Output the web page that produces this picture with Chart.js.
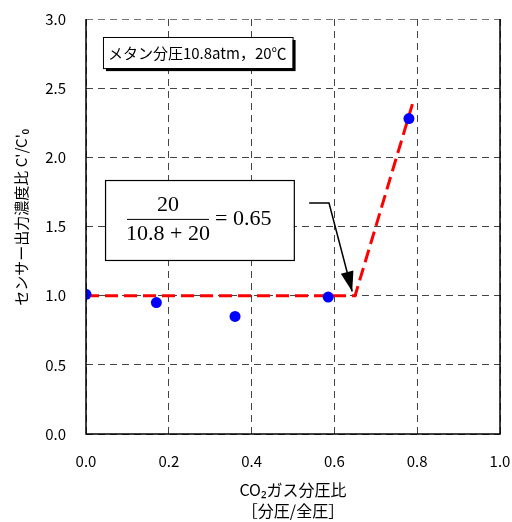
<!DOCTYPE html>
<html>
<head>
<meta charset="utf-8">
<script src="https://cdn.jsdelivr.net/npm/chart.js@4.4.1/dist/chart.umd.min.js"></script>
<style>
  html, body { margin: 0; padding: 0; background: #fff; }
  #wrap { width: 512px; height: 522px; }
</style>
</head>
<body>
<div id="wrap"><canvas id="c" width="512" height="522"></canvas></div>
<script>
// 測定値 (CO2分圧比 vs センサー出力濃度比)
const measX = [0.0, 0.17, 0.36, 0.585, 0.78];
const measY = [1.01, 0.95, 0.85, 0.99, 2.28];

// 折れ線 (赤破線)
const fitX = [0.0, 0.65, 0.79];
const fitY = [1.0, 1.0, 2.4];

// 目盛ラベル
const xTickLabels = ['0.0', '0.2', '0.4', '0.6', '0.8', '1.0'];
const yTickLabels = ['0.0', '0.5', '1.0', '1.5', '2.0', '2.5', '3.0'];

const JP = '"Noto Sans CJK JP", "Noto Sans", sans-serif';
const SERIF = '"Liberation Serif", "DejaVu Serif", serif';

// 枠・注記を描く
const annotPlugin = {
    id: 'annot',
    afterDatasetsDraw(chart) {
        const ctx = chart.ctx;
        const a = chart.chartArea;
        const xs = chart.scales.x, ys = chart.scales.y;
        const px = v => xs.getPixelForValue(v);
        const py = v => ys.getPixelForValue(v);

        ctx.save();
        // 左・下・右の枠（実線）
        ctx.strokeStyle = '#000';
        ctx.lineWidth = 1.5;
        ctx.beginPath();
        ctx.moveTo(a.left, a.top);
        ctx.lineTo(a.left, a.bottom);
        ctx.lineTo(a.right, a.bottom);
        ctx.lineTo(a.right, a.top);
        ctx.stroke();

        // 条件ラベル（影付き）
        const lx1 = px(0.041), lx2 = px(0.499), ly1 = py(2.87), ly2 = py(2.645);
        ctx.fillStyle = '#000';
        ctx.fillRect(lx1 + 3, ly1 + 3, lx2 - lx1, ly2 - ly1);
        ctx.fillStyle = '#fff';
        ctx.fillRect(lx1, ly1, lx2 - lx1, ly2 - ly1);
        ctx.lineWidth = 1;
        ctx.strokeRect(lx1 + 0.5, ly1 + 0.5, lx2 - lx1, ly2 - ly1);
        ctx.fillStyle = '#000';
        ctx.font = '15px ' + JP;
        ctx.textBaseline = 'middle';
        ctx.textAlign = 'left';
        ctx.fillText('メタン分圧10.8atm，20℃', lx1 + 5, (ly1 + ly2) / 2 + 1);

        // 計算式ボックス
        const bx1 = px(0.046), bx2 = px(0.502), by1 = py(1.836), by2 = py(1.258);
        ctx.fillStyle = '#fff';
        ctx.fillRect(bx1, by1, bx2 - bx1, by2 - by1);
        ctx.strokeStyle = '#000';
        ctx.lineWidth = 1.2;
        ctx.strokeRect(bx1 + 0.5, by1 + 0.5, bx2 - bx1, by2 - by1);

        const fx = px(0.198);
        const fy = py(1.555);
        ctx.fillStyle = '#000';
        ctx.font = '22px ' + SERIF;
        ctx.textAlign = 'center';
        ctx.textBaseline = 'middle';
        ctx.fillText('20', fx, fy - 14);
        ctx.fillText('10.8 + 20', fx, fy + 15);
        ctx.lineWidth = 1;
        ctx.beginPath();
        ctx.moveTo(fx - 41, fy + 0.5);
        ctx.lineTo(fx + 41, fy + 0.5);
        ctx.stroke();
        ctx.textAlign = 'left';
        ctx.fillText('= 0.65', fx + 47, fy);

        // 矢印
        const ax0 = px(0.539), ax1 = px(0.587), ayTop = py(1.67);
        const tipX = px(0.643), tipY = py(1.03);
        ctx.strokeStyle = '#000';
        ctx.lineWidth = 1.5;
        ctx.beginPath();
        ctx.moveTo(ax0, ayTop);
        ctx.lineTo(ax1, ayTop);
        ctx.lineTo(tipX, tipY);
        ctx.stroke();
        const ang = Math.atan2(tipY - ayTop, tipX - ax1);
        const L = 20, W = 6.5;
        ctx.beginPath();
        ctx.moveTo(tipX, tipY);
        ctx.lineTo(tipX - L * Math.cos(ang) + W * Math.sin(ang), tipY - L * Math.sin(ang) - W * Math.cos(ang));
        ctx.lineTo(tipX - L * Math.cos(ang) - W * Math.sin(ang), tipY - L * Math.sin(ang) + W * Math.cos(ang));
        ctx.closePath();
        ctx.fillStyle = '#000';
        ctx.fill();
        ctx.restore();
    }
};

new Chart(document.getElementById('c'), {
    type: 'scatter',
    data: {
        datasets: [
            {
                label: '測定値',
                data: measX.map((x, i) => ({ x: x, y: measY[i] })),
                backgroundColor: '#0000ff',
                borderColor: '#0000ff',
                pointRadius: 5.5,
                borderWidth: 0,
                order: 0
            },
            {
                label: '近似',
                data: fitX.map((x, i) => ({ x: x, y: fitY[i] })),
                showLine: true,
                borderColor: '#ff0000',
                borderWidth: 3,
                borderDash: [13, 6],
                pointRadius: 0,
                fill: false,
                order: 1
            }
        ]
    },
    options: {
        responsive: false,
        animation: false,
        layout: { padding: { top: 19, right: 12, left: 0, bottom: 0 } },
        plugins: {
            legend: { display: false },
            tooltip: { enabled: false }
        },
        scales: {
            x: {
                type: 'linear',
                min: 0, max: 1,
                ticks: {
                    stepSize: 0.2,
                    padding: 18,
                    color: '#000',
                    font: { family: JP, size: 15 },
                    callback: (v, i) => xTickLabels[i]
                },
                grid: { color: '#444', lineWidth: 1, drawTicks: false },
                border: { display: false, dash: [7, 5] },
                title: {
                    display: true,
                    text: ['CO₂ガス分圧比', '［分圧/全圧］'],
                    color: '#000',
                    font: { family: JP, size: 16, lineHeight: 1.35 },
                    padding: { top: 0, bottom: 0 }
                },
                afterFit: s => {
                    s.height = 88;
                    s.paddingLeft = 0; s.paddingRight = 0;
                }
            },
            y: {
                type: 'linear',
                min: 0, max: 3,
                ticks: {
                    stepSize: 0.5,
                    padding: 20,
                    color: '#000',
                    font: { family: JP, size: 15 },
                    callback: (v, i) => yTickLabels[i]
                },
                grid: {
                    color: ctx => ctx.tick && ctx.tick.value === 3 ? '#777' : '#444',
                    lineWidth: 1, drawTicks: false
                },
                border: { display: false, dash: [7, 5] },
                title: {
                    display: true,
                    // 先頭の全角空白で文字列を少し上に寄せる
                    text: "\u3000 センサー出力濃度比 C'/C'₀",
                    color: '#000',
                    font: { family: JP, size: 15 },
                    padding: { top: 12, bottom: 0 }
                },
                afterFit: s => {
                    s.width = 86;
                    s.paddingTop = 0; s.paddingBottom = 0;
                }
            }
        }
    },
    plugins: [annotPlugin]
});
</script>
</body>
</html>
